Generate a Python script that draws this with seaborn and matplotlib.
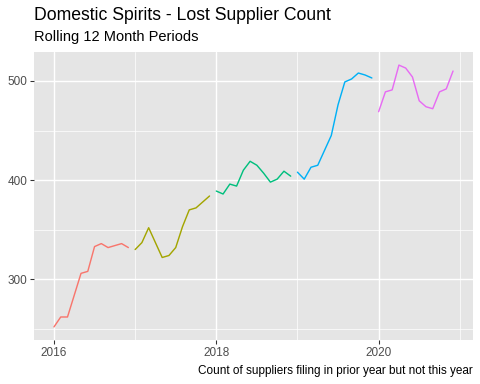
import numpy as np
import pandas as pd
import matplotlib
matplotlib.use("Agg")
import matplotlib.pyplot as plt
import seaborn as sns

years = [2016, 2017, 2018, 2019, 2020]
vals_2016 = [252, 262, 262, 284, 306, 308, 333, 336, 332, 334, 336, 332]
vals_2017 = [330, 337, 352, 337, 322, 324, 332, 353, 370, 372, 378, 384]
vals_2018 = [389, 386, 396, 394, 410, 419, 415, 407, 398, 401, 409, 404]
vals_2019 = [408, 401, 413, 415, 430, 445, 476, 499, 502, 508, 506, 503]
vals_2020 = [469, 489, 491, 516, 513, 504, 480, 474, 472, 489, 492, 510]
colors = ["#F8766D", "#A3A500", "#00BF7D", "#00B0F6", "#E76BF3"]
title = "Domestic Spirits - Lost Supplier Count"
subtitle = "Rolling 12 Month Periods"
caption = "Count of suppliers filing in prior year but not this year"

rows = []
for y, vals in zip(years, [vals_2016, vals_2017, vals_2018, vals_2019, vals_2020]):
    for m, v in enumerate(vals):
        rows.append({"t": y + m / 12.0, "year": str(y), "count": v})
df = pd.DataFrame(rows)

sns.set_theme(style="darkgrid")
plt.rcParams["font.family"] = ["Liberation Sans", "DejaVu Sans"]

DPI = 96
fig = plt.figure(figsize=(480 / DPI, 384 / DPI), dpi=DPI)
ax = fig.add_axes([34 / 480, 1 - 340 / 384, (473 - 34) / 480, (340 - 52) / 384])
ax.set_facecolor("#E5E5E5")
sns.lineplot(data=df, x="t", y="count", hue="year", palette=colors, ax=ax,
             legend=False, linewidth=1.07)

ax.set_xlim(2016 - 0.246, 2020 + 11 / 12 + 0.246)
ax.set_ylim(238.8, 529.2)
ax.set_xticks([2016, 2018, 2020])
ax.set_xticklabels(["2016", "2018", "2020"])
ax.set_yticks([300, 400, 500])
ax.set_xticks([2017, 2019, 2021], minor=True)
ax.set_yticks([250, 350, 450], minor=True)
ax.grid(which="major", color="white", linewidth=1.07)
ax.grid(which="minor", color="white", linewidth=0.53)
ax.set_axisbelow(True)
for s in ax.spines.values():
    s.set_visible(False)
ax.tick_params(which="major", length=2.75, width=0.8, color="#333333",
               labelsize=8.8, labelcolor="#4D4D4D", pad=2.2, bottom=True, left=True)
ax.tick_params(which="minor", length=0)
ax.set_xlabel("")
ax.set_ylabel("")

fig.text(34 / 480, 1 - 16 / 384, title, fontsize=13.2, va="center", ha="left", color="black")
fig.text(34 / 480, 1 - 37 / 384, subtitle, fontsize=11, va="center", ha="left", color="black")
fig.text(473 / 480, 1 - 371 / 384, caption, fontsize=8.8, va="center", ha="right", color="black")

fig.savefig("out.png", dpi=DPI)
